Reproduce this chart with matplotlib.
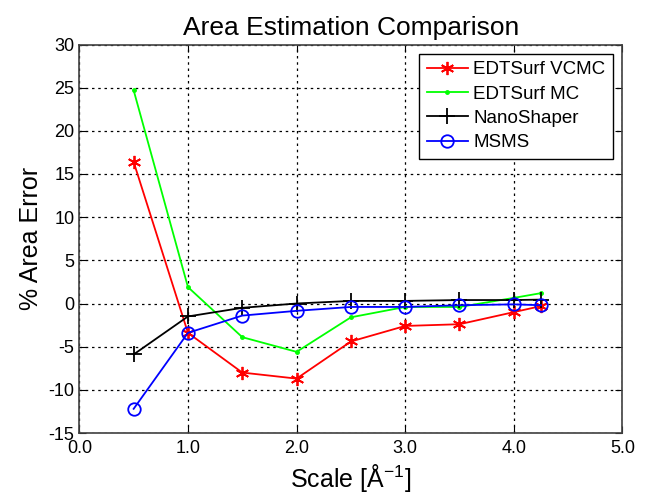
import numpy as np
from matplotlib import pyplot as plt

plt.rcParams['font.family'] = ['Liberation Sans', 'DejaVu Sans']
plt.rcParams['mathtext.fontset'] = 'custom'
plt.rcParams['mathtext.rm'] = 'Liberation Sans'
plt.rcParams['mathtext.it'] = 'Liberation Sans'
plt.rcParams['axes.unicode_minus'] = False

# scale values (1/A)
scale = [0.5, 1.0, 1.5, 2.0, 2.5, 3.0, 3.5, 4.0, 4.25]

# % area error per method
vcmc = [16.4, -3.4, -8.0, -8.7, -4.4, -2.6, -2.4, -1.0, -0.3]
mc = [24.7, 1.9, -3.9, -5.6, -1.6, -0.4, -0.4, 0.65, 1.2]
nanoshaper = [-5.9, -1.5, -0.5, 0.0, 0.3, 0.3, 0.4, 0.4, 0.45]
msms = [-12.2, -3.4, -1.4, -0.85, -0.4, -0.4, -0.2, -0.1, -0.2]

xticks = [0, 1, 2, 3, 4, 5]
xticklabels = ['0.0', '1.0', '2.0', '3.0', '4.0', '5.0']
yticks = list(range(-15, 31, 5))

fig = plt.figure(figsize=(6.45, 5.0), dpi=100)
ax = fig.add_axes([0.123, 0.134, 0.842, 0.777])

# asterisk like matlab's '*'
ast = (6, 2, 0)
ax.plot(scale, vcmc, '-', marker=ast, color='red', lw=1.3, ms=9.5, mew=1.3,
        label='EDTSurf VCMC')
ax.plot(scale, mc, '.-', color='#00ff00', lw=1.3, ms=5, label='EDTSurf MC')
ax.plot(scale, nanoshaper, '-+', color='black', lw=1.3, ms=11, mew=1.3,
        label='NanoShaper')
ax.plot(scale, msms, '-o', color='blue', lw=1.3, ms=9, mfc='none', mew=1.3,
        label='MSMS')

ax.set_xlim(0, 5)
ax.set_ylim(-15, 30)
ax.set_xticks(xticks)
ax.set_xticklabels(xticklabels)
ax.set_yticks(yticks)
ax.tick_params(direction='in', length=5, top=True, right=True, labelsize=13)
ax.tick_params(axis='x', pad=5)
ax.grid(True, color='black', linestyle=(0, (2, 3)), linewidth=0.9)
for s in ax.spines.values():
    s.set_color('#404040')
    s.set_linewidth(1.2)

ax.set_title('Area Estimation Comparison', fontsize=19, pad=7)
ax.set_xlabel('Scale [Å$^{-1}$]', fontsize=18)
ax.set_ylabel('% Area Error', fontsize=18)

leg = ax.legend(loc='upper right', fontsize=13.5, fancybox=False, framealpha=1,
                edgecolor='black', borderaxespad=0.5, handlelength=2.2,
                handletextpad=0.3, labelspacing=0.38, borderpad=0.4)
leg.get_frame().set_linewidth(1.0)

fig.savefig('out.png')
